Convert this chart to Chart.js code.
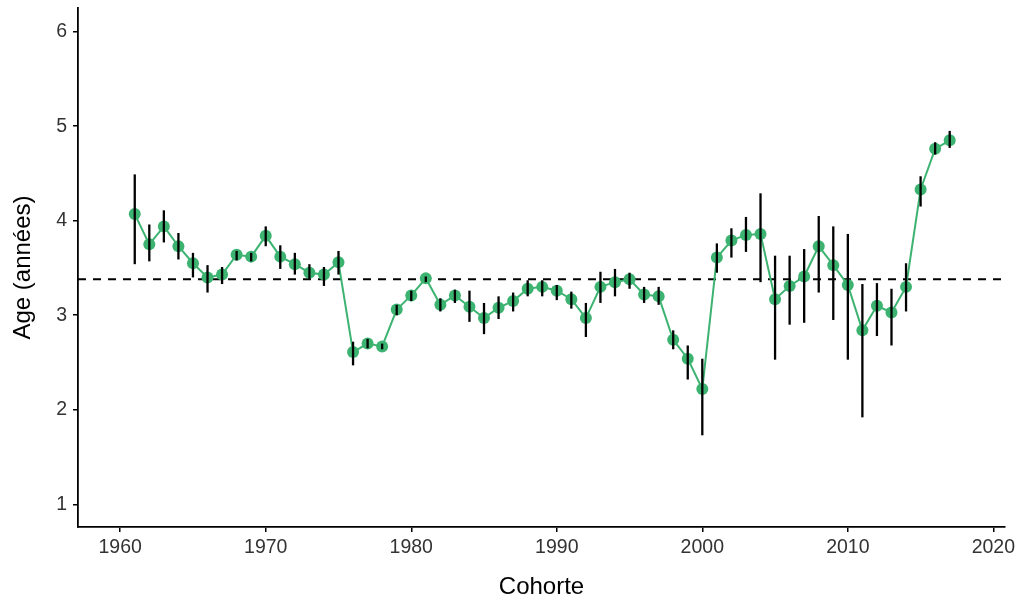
<!DOCTYPE html>
<html>
<head>
<meta charset="utf-8">
<script src="https://cdn.jsdelivr.net/npm/chart.js@4/dist/chart.umd.min.js"></script>
<style>
  html, body { margin: 0; padding: 0; background: #fff; }
  canvas { display: block; }
</style>
</head>
<body>
<canvas id="ageChart" width="1021" height="602"></canvas>
<script>
// cohort years and mean age per cohort
const cohorts = [1961, 1962, 1963, 1964, 1965, 1966, 1967, 1968, 1969, 1970,
    1971, 1972, 1973, 1974, 1975, 1976, 1977, 1978, 1979, 1980,
    1981, 1982, 1983, 1984, 1985, 1986, 1987, 1988, 1989, 1990,
    1991, 1992, 1993, 1994, 1995, 1996, 1997, 1998, 1999, 2000,
    2001, 2002, 2003, 2004, 2005, 2006, 2007, 2008, 2009, 2010,
    2011, 2012, 2013, 2014, 2015, 2016, 2017];
const ageMean = [4.07, 3.75, 3.94, 3.73, 3.55, 3.40, 3.43, 3.64, 3.62, 3.84,
    3.62, 3.54, 3.45, 3.43, 3.56, 2.61, 2.70, 2.67, 3.06, 3.21,
    3.39, 3.11, 3.21, 3.09, 2.97, 3.08, 3.15, 3.28, 3.30, 3.26,
    3.17, 2.97, 3.30, 3.35, 3.38, 3.22, 3.20, 2.74, 2.54, 2.22,
    3.61, 3.79, 3.85, 3.86, 3.17, 3.31, 3.41, 3.73, 3.53, 3.32,
    2.84, 3.10, 3.03, 3.30, 4.33, 4.76, 4.85];
const ageLow = [3.54, 3.57, 3.77, 3.59, 3.40, 3.24, 3.33, 3.58, 3.57, 3.73,
    3.49, 3.43, 3.38, 3.31, 3.43, 2.47, 2.65, 2.64, 3.00, 3.15,
    3.35, 3.04, 3.13, 2.93, 2.80, 2.96, 3.04, 3.20, 3.20, 3.16,
    3.07, 2.77, 3.13, 3.20, 3.28, 3.13, 3.11, 2.64, 2.32, 1.73,
    3.45, 3.61, 3.67, 3.35, 2.53, 2.90, 2.92, 3.24, 2.95, 2.53,
    1.92, 2.78, 2.68, 3.04, 4.15, 4.70, 4.77];
const ageHigh = [4.49, 3.96, 4.11, 3.87, 3.66, 3.53, 3.51, 3.68, 3.66, 3.94,
    3.74, 3.66, 3.54, 3.51, 3.68, 2.72, 2.75, 2.70, 3.11, 3.26,
    3.41, 3.18, 3.27, 3.26, 3.13, 3.20, 3.24, 3.37, 3.37, 3.32,
    3.25, 3.13, 3.46, 3.49, 3.45, 3.30, 3.30, 2.84, 2.68, 2.54,
    3.76, 3.92, 4.04, 4.29, 3.63, 3.63, 3.70, 4.05, 3.94, 3.86,
    3.33, 3.34, 3.28, 3.55, 4.47, 4.83, 4.95];
const overallMean = 3.38;

const xTicks = [1960, 1970, 1980, 1990, 2000, 2010, 2020];
const yTicks = [1, 2, 3, 4, 5, 6];

const green = 'rgb(60, 179, 113)';
const fontFamily = '"Liberation Sans", Arial, sans-serif';

// horizontal dashed reference line at the overall mean
const meanLine = {
    id: 'meanLine',
    beforeDatasetsDraw(chart) {
        const { ctx, chartArea, scales } = chart;
        const y = scales.y.getPixelForValue(overallMean);
        ctx.save();
        ctx.strokeStyle = '#000';
        ctx.lineWidth = 2;
        ctx.setLineDash([8, 7]);
        ctx.beginPath();
        ctx.moveTo(chartArea.left, y);
        ctx.lineTo(chartArea.right, y);
        ctx.stroke();
        ctx.restore();
    }
};

// vertical ranges drawn over the points
const errorBars = {
    id: 'errorBars',
    afterDatasetsDraw(chart) {
        const { ctx, scales } = chart;
        ctx.save();
        ctx.strokeStyle = '#000';
        ctx.lineWidth = 2.3;
        ctx.lineCap = 'butt';
        cohorts.forEach((yr, i) => {
            const x = scales.x.getPixelForValue(yr);
            ctx.beginPath();
            ctx.moveTo(x, scales.y.getPixelForValue(ageLow[i]));
            ctx.lineTo(x, scales.y.getPixelForValue(ageHigh[i]));
            ctx.stroke();
        });
        ctx.restore();
    }
};

const axisGrid = {
    display: true,
    drawOnChartArea: false,
    drawTicks: true,
    tickLength: 5,
    color: '#000',
    lineWidth: 1.5
};

new Chart(document.getElementById('ageChart'), {
    type: 'line',
    data: {
        datasets: [{
            data: cohorts.map((c, i) => ({ x: c, y: ageMean[i] })),
            borderColor: green,
            backgroundColor: green,
            borderWidth: 2,
            pointRadius: 6,
            pointBorderWidth: 0,
            pointBackgroundColor: green,
            tension: 0
        }]
    },
    options: {
        responsive: false,
        animation: false,
        devicePixelRatio: 1,
        layout: { padding: { left: 0, right: 16, top: 8, bottom: 0 } },
        plugins: {
            legend: { display: false },
            tooltip: { enabled: false }
        },
        scales: {
            x: {
                type: 'linear',
                min: 1957.1,
                max: 2020.8,
                afterBuildTicks: scale => { scale.ticks = xTicks.map(v => ({ value: v })); },
                afterFit: scale => {
                    scale.height = 75;
                    scale.paddingLeft = 0;
                    scale.paddingRight = 0;
                },
                grid: axisGrid,
                border: { display: true, color: '#000', width: 1.8 },
                ticks: {
                    color: '#333',
                    padding: 4,
                    maxRotation: 0,
                    font: { family: fontFamily, size: 19.5 },
                    callback: v => String(v)
                },
                title: {
                    display: true,
                    text: 'Cohorte',
                    color: '#000',
                    padding: { top: 0, bottom: 0 },
                    font: { family: fontFamily, size: 24 }
                }
            },
            y: {
                type: 'linear',
                min: 0.76,
                max: 6.25,
                afterBuildTicks: scale => { scale.ticks = yTicks.map(v => ({ value: v })); },
                afterFit: scale => {
                    scale.width = 78;
                    scale.paddingTop = 0;
                    scale.paddingBottom = 0;
                },
                grid: axisGrid,
                border: { display: true, color: '#000', width: 1.8 },
                ticks: {
                    color: '#333',
                    padding: 6,
                    font: { family: fontFamily, size: 19.5 },
                    callback: v => String(v)
                },
                title: {
                    display: true,
                    text: 'Age (années)',
                    color: '#000',
                    padding: { top: 9, bottom: 0 },
                    font: { family: fontFamily, size: 24 }
                }
            }
        }
    },
    plugins: [meanLine, errorBars]
});
</script>
</body>
</html>
